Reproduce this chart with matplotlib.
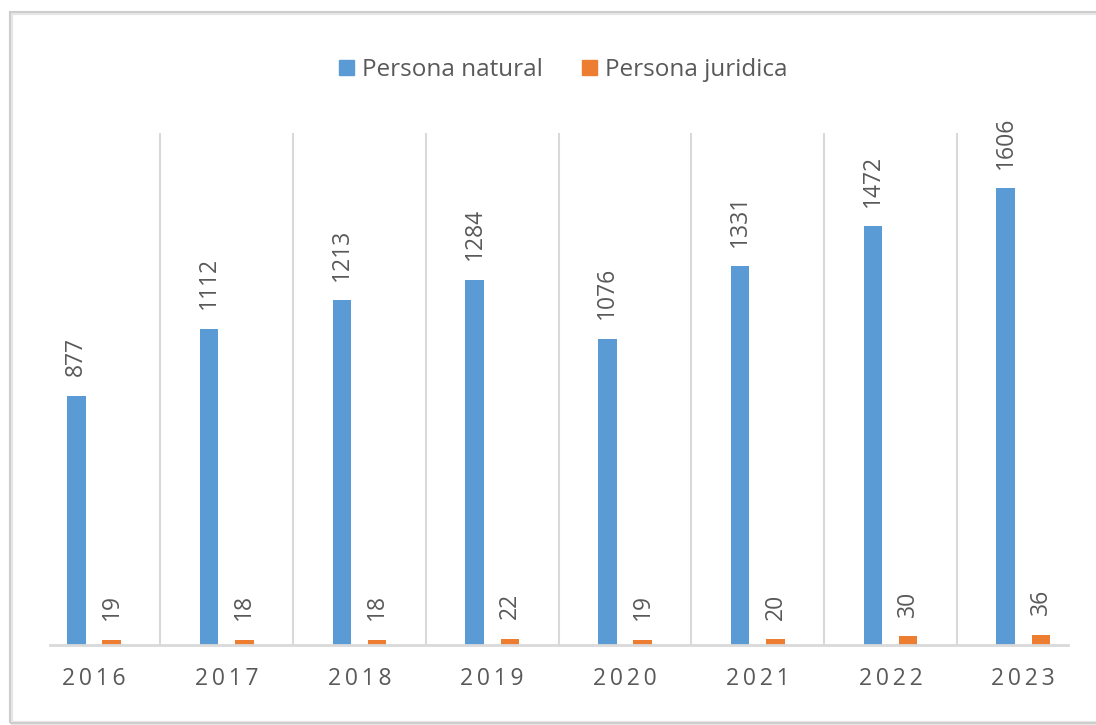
import matplotlib.pyplot as plt
from matplotlib.patches import Rectangle, Patch

years = ["2016", "2017", "2018", "2019", "2020", "2021", "2022", "2023"]
natural = [877, 1112, 1213, 1284, 1076, 1331, 1472, 1606]
juridica = [19, 18, 18, 22, 19, 20, 30, 36]

BLUE = "#5B9BD5"
ORANGE = "#ED7D31"
TEXT = "#595959"
GRID = "#d9d9d9"

plt.rcParams["font.family"] = ["Open Sans", "DejaVu Sans"]

fig = plt.figure(figsize=(10.96, 7.25), dpi=100)
W, H = 1096, 725

# outer chart frame (light border with a soft shadow)
fig.patches.append(Rectangle((11 / W, 2 / H), 1.2, (710 / H), transform=fig.transFigure,
                             fill=False, edgecolor="#e6e6e6", linewidth=3))
fig.patches.append(Rectangle((10 / W, 2 / H), 1.2, (711 / H), transform=fig.transFigure,
                             fill=False, edgecolor="#c8c8c8", linewidth=1.2))

left, right = 27.6, 1089.6
ax = fig.add_axes([left / W, (H - 645) / H, (right - left) / W, 512 / H])
x = list(range(len(years)))
off = 0.133
w = 0.14

b1 = ax.bar([i - off for i in x], natural, width=w, color=BLUE, label="Persona natural", zorder=3)
b2 = ax.bar([i + off for i in x], juridica, width=w, color=ORANGE, label="Persona juridica", zorder=3)

ax.bar_label(b1, padding=14, rotation=90, color=TEXT, fontsize=16.5)
ax.bar_label(b2, padding=14, rotation=90, color=TEXT, fontsize=16.5)

ax.set_xlim(-0.5, 7.5)
ax.set_ylim(0, 1800)
for i in range(1, len(years)):
    ax.axvline(i - 0.5, color=GRID, linewidth=1.5, zorder=1)
ax.axhline(0, xmin=(50 - left) / (right - left), xmax=(1068 - left) / (right - left),
           color=GRID, linewidth=2, zorder=4, clip_on=False)

# spaced-out year labels like the original
ax.set_xticks(x, ["\u2009".join(y) for y in years])
ax.tick_params(axis="x", length=0, pad=16, labelsize=16.5, labelcolor=TEXT)
ax.set_yticks([])
for s in ax.spines.values():
    s.set_visible(False)
ax.patch.set_alpha(0)

handles = [Patch(color=BLUE), Patch(color=ORANGE)]
fig.legend(handles, ["Persona natural", "Persona juridica"], loc="center",
           bbox_to_anchor=(563 / W, 1 - 70 / H), ncol=2, frameon=False,
           fontsize=17.5, labelcolor=TEXT, handlelength=0.62, handleheight=0.62,
           handletextpad=0.33, columnspacing=1.6)

fig.savefig("out.png", dpi=100)
